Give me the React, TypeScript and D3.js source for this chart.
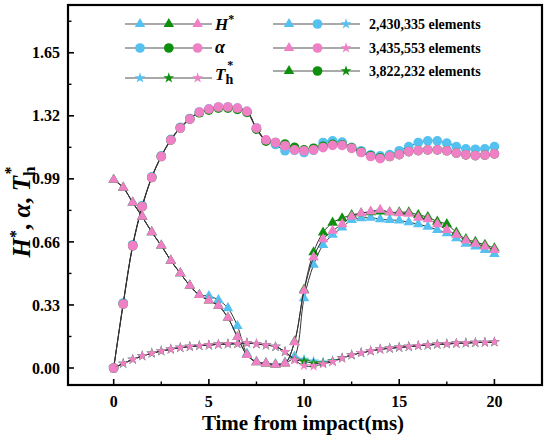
import * as d3 from 'd3'

// time axis (ms)
const time = [
  0, 0.5, 1, 1.5, 2, 2.5, 3, 3.5, 4, 4.5, 5, 5.5, 6, 6.5, 7, 7.5, 8, 8.5, 9, 9.5, 10,
  10.5, 11, 11.5, 12, 12.5, 13, 13.5, 14, 14.5, 15, 15.5, 16, 16.5, 17, 17.5, 18, 18.5, 19, 19.5, 20,
]

// alpha
const alphaBlue = [
  0, 0.34, 0.645, 0.85, 1.0, 1.11, 1.197, 1.26, 1.306, 1.34, 1.356, 1.366, 1.366, 1.36, 1.343, 1.256, 1.19, 1.17, 1.137, 1.14, 1.128,
  1.14, 1.18, 1.189, 1.182, 1.155, 1.137, 1.116, 1.11, 1.117, 1.137, 1.159, 1.18, 1.189, 1.189, 1.177, 1.159, 1.147, 1.145, 1.147, 1.159,
]
const alphaGreen = [
  0, 0.335, 0.64, 0.845, 0.997, 1.107, 1.193, 1.256, 1.303, 1.336, 1.35, 1.36, 1.36, 1.354, 1.338, 1.25, 1.188, 1.18, 1.172, 1.155, 1.142,
  1.15, 1.16, 1.17, 1.168, 1.152, 1.13, 1.11, 1.1, 1.107, 1.117, 1.133, 1.138, 1.142, 1.142, 1.137, 1.125, 1.116, 1.112, 1.114, 1.121,
]
const alphaPink = [
  0, 0.335, 0.64, 0.845, 0.997, 1.107, 1.193, 1.256, 1.303, 1.339, 1.355, 1.366, 1.366, 1.36, 1.343, 1.256, 1.194, 1.18, 1.163, 1.142, 1.137,
  1.142, 1.154, 1.165, 1.165, 1.15, 1.128, 1.107, 1.096, 1.107, 1.117, 1.133, 1.138, 1.142, 1.142, 1.137, 1.125, 1.116, 1.112, 1.114, 1.121,
]

// H*
const hBlue = [
  0.985, 0.944, 0.866, 0.792, 0.711, 0.641, 0.562, 0.496, 0.431, 0.382, 0.377, 0.356, 0.313, 0.22, 0.075, 0.032, 0.025, 0.02, 0.028, 0.06, 0.365,
  0.54, 0.644, 0.697, 0.735, 0.775, 0.784, 0.787, 0.779, 0.775, 0.772, 0.763, 0.753, 0.74, 0.723, 0.705, 0.679, 0.65, 0.636, 0.618, 0.597,
]
const hGreen = [
  0.985, 0.944, 0.866, 0.792, 0.711, 0.641, 0.562, 0.496, 0.431, 0.382, 0.353, 0.326, 0.263, 0.162, 0.068, 0.03, 0.024, 0.017, 0.024, 0.138, 0.41,
  0.606, 0.709, 0.761, 0.784, 0.801, 0.81, 0.815, 0.819, 0.815, 0.815, 0.815, 0.801, 0.79, 0.766, 0.753, 0.709, 0.675, 0.66, 0.645, 0.627,
]
const hPink = [
  0.985, 0.944, 0.866, 0.792, 0.711, 0.641, 0.562, 0.496, 0.431, 0.382, 0.353, 0.326, 0.263, 0.162, 0.068, 0.03, 0.024, 0.017, 0.024, 0.135, 0.405,
  0.58, 0.674, 0.718, 0.753, 0.793, 0.81, 0.819, 0.828, 0.815, 0.81, 0.807, 0.787, 0.779, 0.753, 0.723, 0.697, 0.667, 0.65, 0.636, 0.618,
]

// Th*
const thBlue = [
  0, 0.024, 0.045, 0.063, 0.077, 0.089, 0.098, 0.107, 0.112, 0.117, 0.12, 0.124, 0.126, 0.127, 0.131, 0.126, 0.12, 0.112, 0.085, 0.05, 0.045,
  0.035, 0.03, 0.038, 0.053, 0.068, 0.08, 0.089, 0.098, 0.103, 0.108, 0.112, 0.117, 0.12, 0.124, 0.126, 0.129, 0.131, 0.133, 0.134, 0.136,
]
const thGreen = [
  0, 0.024, 0.045, 0.063, 0.077, 0.089, 0.098, 0.107, 0.112, 0.117, 0.12, 0.124, 0.126, 0.127, 0.131, 0.126, 0.12, 0.112, 0.085, 0.045, 0.035,
  0.025, 0.025, 0.035, 0.052, 0.068, 0.08, 0.089, 0.098, 0.103, 0.108, 0.112, 0.117, 0.12, 0.124, 0.126, 0.129, 0.131, 0.133, 0.134, 0.136,
]
const thPink = [
  0, 0.024, 0.045, 0.063, 0.077, 0.089, 0.098, 0.107, 0.112, 0.117, 0.12, 0.124, 0.126, 0.127, 0.131, 0.126, 0.12, 0.112, 0.085, 0.042, 0.012,
  0.01, 0.021, 0.033, 0.051, 0.068, 0.08, 0.089, 0.098, 0.103, 0.108, 0.112, 0.117, 0.12, 0.124, 0.126, 0.129, 0.131, 0.133, 0.134, 0.136,
]

const meshes = ['2,430,335 elements', '3,435,553 elements', '3,822,232 elements']
const xTicks = [0, 5, 10, 15, 20]
const xMinor = [2.5, 7.5, 12.5, 17.5]
const yTicks = [0, 0.33, 0.66, 0.99, 1.32, 1.65]
const yMinor = [0.165, 0.495, 0.825, 1.155, 1.485, 1.815]

const BLUE = '#55c1f1'
const GREEN = '#0e8f0e'
const PINK = '#ef80c6'
const FONT = '"Liberation Serif", "Times New Roman", serif'

const triangle = d3.symbol().type(d3.symbolTriangle).size(48)()!
const circle = d3.symbol().type(d3.symbolCircle).size(74)()!
const star = d3.symbol().type(d3.symbolStar).size(36)()!

export default function App() {
  const L = 68, R = 542, T = 5, B = 385
  const x = d3.scaleLinear().domain([-2.4, 22.5]).range([L, R])
  const y = d3.scaleLinear().domain([-0.089, 1.9]).range([B, T])

  const line = d3.line<number>()
    .x((_, i) => x(time[i]))
    .y(d => y(d))
    .curve(d3.curveCatmullRom)

  // draw order: blue, green, pink (pink on top)
  const series = [
    { color: BLUE, data: [alphaBlue, hBlue, thBlue] },
    { color: GREEN, data: [alphaGreen, hGreen, thGreen] },
    { color: PINK, data: [alphaPink, hPink, thPink] },
  ]
  const shapes = [circle, triangle, star]

  const legRowsL = [24, 48, 78]
  const legRowsR = [24, 48, 71]
  const legColors = [BLUE, PINK, GREEN]

  return (
    <svg width={550} height={442} style={{ position: 'absolute', left: 0, top: 0, background: '#fff' }} fontFamily={FONT}>
      {series.map((s, si) => (
        <g key={si}>
          {s.data.map((arr, k) => (
            <g key={k}>
              <path d={line(arr)!} fill="none" stroke="#333" strokeWidth={1} />
              {arr.map((v, i) => (
                <path key={i} d={shapes[k]} transform={`translate(${x(time[i])},${y(v)})`} fill={s.color} />
              ))}
            </g>
          ))}
        </g>
      ))}

      {/* frame */}
      <rect x={L} y={T} width={R - L} height={B - T} fill="none" stroke="#000" strokeWidth={2.2} />

      {/* x axis */}
      {xTicks.map(t => (
        <g key={t}>
          <line x1={x(t)} x2={x(t)} y1={B} y2={B - 6} stroke="#000" strokeWidth={1.6} />
          <text x={x(t)} y={407} textAnchor="middle" fontSize={16} fontWeight="bold">{t}</text>
        </g>
      ))}
      {xMinor.map(t => (
        <line key={t} x1={x(t)} x2={x(t)} y1={B} y2={B - 3.5} stroke="#000" strokeWidth={1.4} />
      ))}
      <text x={303} y={430} textAnchor="middle" fontSize={21} fontWeight="bold">Time from impact(ms)</text>

      {/* y axis */}
      {yTicks.map(t => (
        <g key={t}>
          <line x1={L} x2={L + 6} y1={y(t)} y2={y(t)} stroke="#000" strokeWidth={1.6} />
          <text x={60} y={y(t)} dy="0.35em" textAnchor="end" fontSize={16} fontWeight="bold">{t.toFixed(2)}</text>
        </g>
      ))}
      {yMinor.map(t => (
        <line key={t} x1={L} x2={L + 3.5} y1={y(t)} y2={y(t)} stroke="#000" strokeWidth={1.4} />
      ))}
      <text transform="translate(30,212) rotate(-90)" textAnchor="middle" fontSize={25} fontWeight="bold">
        <tspan fontStyle="italic">H</tspan>
        <tspan dy={-9} fontSize={16}>*</tspan>
        <tspan dy={9}>, </tspan>
        <tspan fontStyle="italic">α</tspan>
        <tspan>, </tspan>
        <tspan fontStyle="italic">T</tspan>
        <tspan dy={5} fontSize={17}>h</tspan>
        <tspan dx={-8} dy={-19} fontSize={16}>*</tspan>
      </text>

      {/* legend: left column (quantities) */}
      {shapes.map((_, k) => {
        const order = [1, 0, 2][k] // H*, alpha, Th*
        const yy = legRowsL[k]
        return (
          <g key={k}>
            <line x1={125} x2={212} y1={yy} y2={yy} stroke="#555" strokeWidth={1.2} />
            {[BLUE, GREEN, PINK].map((c, j) => (
              <path key={j} d={shapes[order]} transform={`translate(${140 + j * 28.8},${yy})`} fill={c} />
            ))}
          </g>
        )
      })}
      <text x={215} y={30} fontSize={17} fontWeight="bold">
        <tspan fontStyle="italic">H</tspan>
        <tspan dy={-7} fontSize={12}>*</tspan>
      </text>
      <text x={215} y={53} fontSize={18} fontWeight="bold" fontStyle="italic">α</text>
      <text x={215} y={80} fontSize={17} fontWeight="bold">
        <tspan fontStyle="italic">T</tspan>
        <tspan dy={4} fontSize={14}>h</tspan>
        <tspan dx={-6} dy={-15} fontSize={12}>*</tspan>
      </text>

      {/* legend: right column (meshes) */}
      {meshes.map((m, k) => {
        const yy = legRowsR[k]
        return (
          <g key={m}>
            <line x1={273} x2={360} y1={yy} y2={yy} stroke="#555" strokeWidth={1.2} />
            {[triangle, circle, star].map((sh, j) => (
              <path key={j} d={sh} transform={`translate(${289 + j * 28.5},${yy})`} fill={legColors[k]} />
            ))}
            <text x={369} y={yy + 5} fontSize={14} fontWeight="bold">{m}</text>
          </g>
        )
      })}
    </svg>
  )
}
